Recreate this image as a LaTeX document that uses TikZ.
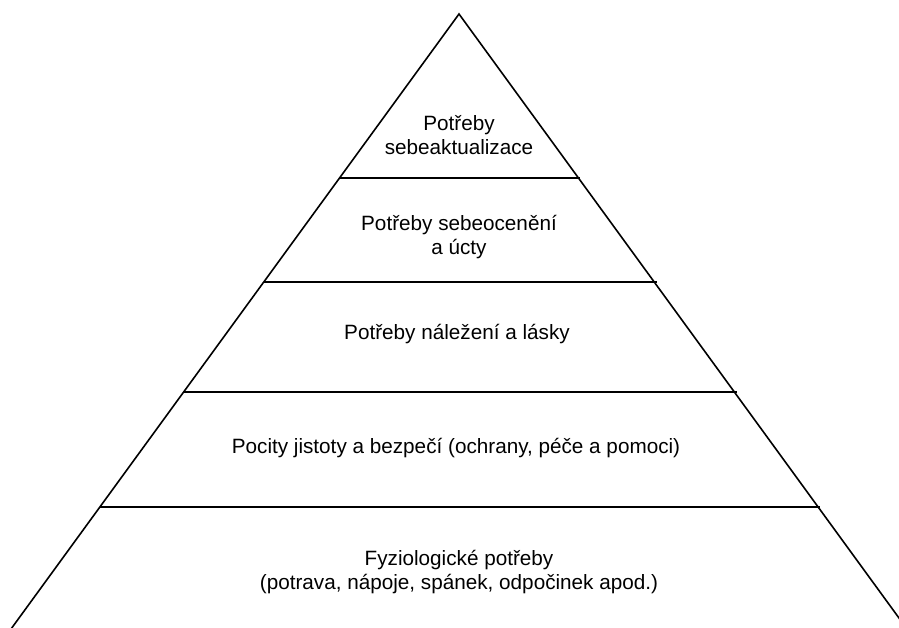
\documentclass[tikz,border=0pt]{standalone}
\usepackage{fontspec}
\setmainfont{Liberation Sans}
\usetikzlibrary{calc}

\begin{document}
\begin{tikzpicture}[
x=1pt, y=-1pt,
edge/.style = {line width=1.6pt, black},
level/.style = {line width=1.5pt, black},
level-text/.style = {align=center, inner sep=0pt, font=\fontsize{20.7}{24.8}\selectfont}
]

\useasboundingbox (0,0) rectangle (899,628);
\clip (0,0) rectangle (899,628);

\coordinate (top) at (459,14);
\coordinate (bl) at (3,640);
\coordinate (br) at (915,640);

% pyramid sides
\draw[edge, line join=miter] (bl) -- (top) -- (br);

% levels
\coordinate (l1a) at ($(top)!0.262!(bl)$);
\coordinate (l1b) at ($(top)!0.262!(br)+(2,0)$);
\coordinate (l2a) at ($(top)!0.428!(bl)$);
\coordinate (l2b) at ($(top)!0.428!(br)+(3,0)$);
\coordinate (l3a) at ($(top)!0.604!(bl)$);
\coordinate (l3b) at ($(top)!0.604!(br)+(3,0)$);
\coordinate (l4a) at ($(top)!0.7875!(bl)$);
\coordinate (l4b) at ($(top)!0.7875!(br)+(2,0)$);
\draw[level] (l1a) -- (l1b);
\draw[level] (l2a) -- (l2b);
\draw[level] (l3a) -- (l3b);
\draw[level] (l4a) -- (l4b);

% labels
\node[level-text] (t1) at (459,135) {Potřeby\\sebeaktualizace};
\node[level-text] (t2) at (459,237) {Potřeby sebeocenění\\a úcty};
\node[level-text] (t3) at (457,334) {Potřeby náležení a lásky};
\node[level-text] (t4) at (456,448) {Pocity jistoty a bezpečí (ochrany, péče a pomoci)};
\node[level-text] (t5) at (459,572) {Fyziologické potřeby\\(potrava, nápoje, spánek, odpočinek apod.)};

\end{tikzpicture}
\end{document}
